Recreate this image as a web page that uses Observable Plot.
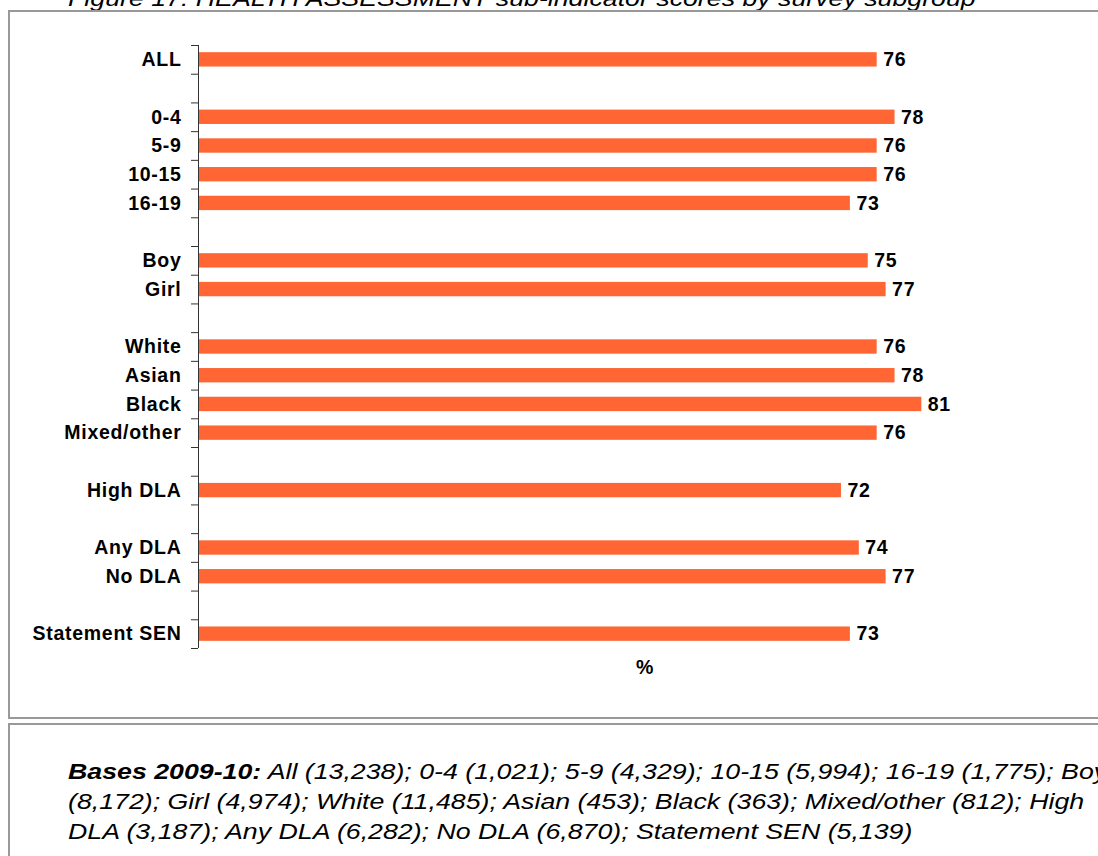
<!DOCTYPE html>
<html>
<head>
<meta charset="utf-8">
<script src="https://cdn.jsdelivr.net/npm/d3@7"></script>
<script src="https://cdn.jsdelivr.net/npm/@observablehq/plot@0.6"></script>
<style>
  html, body { margin: 0; padding: 0; }
  body {
    width: 1098px; height: 856px; overflow: hidden; position: relative;
    background: #fff; color: #000;
    font-family: "Liberation Sans", Arial, Helvetica, sans-serif;
  }
  #title {
    position: absolute; left: 68px; top: -12px; white-space: nowrap;
    font-style: italic; font-size: 22px; line-height: 22px;
    transform: scaleX(1.215); transform-origin: left top;
  }
  .box { position: absolute; left: 8px; width: 1200px; border: 2px solid #999; }
  #box1 { top: 10px; height: 705px; }
  #box2 { top: 723px; height: 300px; }
  #chart { position: absolute; left: 0; top: 0; }
  #chart text { letter-spacing: 0.7px; }
  #caption {
    position: absolute; left: 68px; top: 757px;
    font-style: italic; font-size: 22px; line-height: 30px; white-space: nowrap;
    transform: scaleX(1.215); transform-origin: left top;
  }
  #caption b { font-weight: bold; }
</style>
</head>
<body>
<div id="title">Figure 17: HEALTH ASSESSMENT sub-indicator scores by survey subgroup</div>
<div class="box" id="box1"></div>
<div class="box" id="box2"></div>
<div id="chart"></div>
<div id="caption">
  <div><b>Bases 2009-10:</b> All (13,238); 0-4 (1,021); 5-9 (4,329); 10-15 (5,994); 16-19 (1,775); Boy</div>
  <div>(8,172); Girl (4,974); White (11,485); Asian (453); Black (363); Mixed/other (812); High</div>
  <div>DLA (3,187); Any DLA (6,282); No DLA (6,870); Statement SEN (5,139)</div>
</div>
<script>
// Subgroups and their sub-indicator scores (%)
const categories = ["ALL", "0-4", "5-9", "10-15", "16-19", "Boy", "Girl", "White", "Asian", "Black", "Mixed/other", "High DLA", "Any DLA", "No DLA", "Statement SEN"];
const scores = [76, 78, 76, 76, 73, 75, 77, 76, 78, 81, 76, 72, 74, 77, 73];

// Row order down the chart; "gap:" rows are empty spacers between subgroup blocks
const rows = ["ALL", "gap:1", "0-4", "5-9", "10-15", "16-19", "gap:2", "Boy", "Girl", "gap:3",
  "White", "Asian", "Black", "Mixed/other", "gap:4", "High DLA", "gap:5", "Any DLA", "No DLA", "gap:6", "Statement SEN"];

const data = categories.map((group, i) => ({group, score: scores[i]}));

const width = 1098, height = 716;
const marginLeft = 198, marginRight = 7, marginTop = 45, marginBottom = 68;
const step = (height - marginTop - marginBottom) / rows.length;
const label = (d) => (d.startsWith("gap:") ? "" : d);

const chart = Plot.plot({
  width, height, marginLeft, marginRight, marginTop, marginBottom,
  style: {
    background: "transparent", overflow: "visible", maxWidth: "none",
    fontFamily: "'Liberation Sans', Arial, Helvetica, sans-serif",
    fontSize: "19.5px", fontWeight: "bold", color: "#000"
  },
  x: {domain: [0, 100], axis: null},
  y: {domain: rows, paddingInner: 0.5, paddingOuter: 0.25, round: false, axis: null},
  marks: [
    Plot.barX(data, {y: "group", x: "score", fill: "#FF6633"}),
    Plot.text(data, {
      y: "group", x: "score", text: (d) => String(d.score),
      textAnchor: "start", dx: 6, fill: "#000"
    }),
    // category labels
    Plot.axisY({tickSize: 0, tickPadding: 17, tickFormat: label, label: null, fill: "#000"}),
    // tick marks sit on the category boundaries
    Plot.axisY({ticks: rows, tickSize: 7, tickFormat: () => "", label: null, dy: -step / 2, stroke: "#333"}),
    Plot.axisY({ticks: [rows[rows.length - 1]], tickSize: 7, tickFormat: () => "", label: null, dy: step / 2, stroke: "#333"}),
    Plot.ruleX([0], {stroke: "#333"}),
    Plot.text(["%"], {frameAnchor: "bottom", dy: 25, fill: "#000"})
  ]
});
document.getElementById("chart").appendChild(chart);
</script>
</body>
</html>
